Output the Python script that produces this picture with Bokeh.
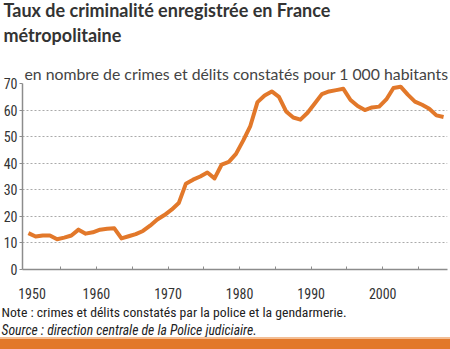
from bokeh.plotting import figure
from bokeh.models import FixedTicker, Range1d, Title, Spacer
from bokeh.layouts import column
from bokeh.embed import file_html
from bokeh.resources import INLINE

# ---- data ----
years = list(range(1950, 2009))
rates = [13.7, 12.4, 12.8, 12.8, 11.4, 12.0, 12.8, 15.0, 13.5, 14.0,
         15.0, 15.3, 15.5, 11.7, 12.5, 13.3, 14.5, 16.5, 18.8, 20.5,
         22.5, 25.0, 32.3, 33.8, 35.0, 36.5, 34.3, 39.5, 40.5, 43.5,
         48.5, 54.0, 63.0, 65.5, 67.0, 65.0, 59.5, 57.2, 56.4, 59.0,
         62.5, 66.0, 67.0, 67.5, 68.0, 63.8, 61.5, 60.0, 61.0, 61.3,
         64.0, 68.3, 68.8, 65.8, 63.2, 62.0, 60.5, 58.0, 57.4]
y_ticks = [0, 10, 20, 30, 40, 50, 60, 70]
x_tick_marks = [1955, 1960, 1965, 1970, 1975, 1980, 1985, 1990, 1995, 2000, 2005]
x_label_pos = [1951, 1960, 1970, 1980, 1990, 2000]   # 1950 label sits slightly right, as in the original
x_labels = ["1950", "1960", "1970", "1980", "1990", "2000"]

TITLE = "Taux de criminalité enregistrée en France\nmétropolitaine"
SUBTITLE = "en nombre de crimes et délits constatés pour 1 000 habitants"
NOTE = "Note : crimes et délits constatés par la police et la gendarmerie."
SOURCE = "Source : direction centrale de la Police judiciaire."

ORANGE = "#E2782A"
LIGHT_ORANGE = "#F3BE95"
AXIS_GREY = "#8c8c8c"
NARROW = "Roboto Condensed"

p = figure(width=450, height=337, output_backend="svg", toolbar_location=None,
           x_range=Range1d(1949.67, 2009.05), y_range=Range1d(0, 70),
           min_border_left=21, min_border_right=3, min_border_top=0,
           min_border_bottom=0)
p.outline_line_color = None

# series plotted at mid-year
xs = [y + 0.5 for y in years]
p.line(xs, rates, line_color=ORANGE, line_width=4, line_join="round")

# axes
for ax in (p.xaxis, p.yaxis):
    ax.axis_line_color = AXIS_GREY
    ax.axis_line_width = 1.5
    ax.major_tick_line_color = AXIS_GREY
    ax.minor_tick_line_color = AXIS_GREY
    ax.major_label_text_font = NARROW
    ax.major_label_text_font_size = "14px"
    ax.major_label_text_color = "#333333"

p.yaxis.ticker = FixedTicker(ticks=y_ticks)
p.yaxis.major_tick_out = 3
p.yaxis.major_tick_in = 0
p.yaxis.minor_tick_out = 0
p.yaxis.minor_tick_in = 0
p.yaxis.major_label_standoff = 2

p.xaxis.ticker = FixedTicker(ticks=x_label_pos, minor_ticks=x_tick_marks)
p.xaxis.major_label_overrides = dict(zip(x_label_pos, x_labels))
p.xaxis.major_tick_in = 0
p.xaxis.major_tick_out = 0
p.xaxis.minor_tick_in = 3
p.xaxis.minor_tick_out = 0
p.xaxis.major_label_standoff = 18

p.xgrid.grid_line_color = None
p.ygrid.ticker = FixedTicker(ticks=y_ticks[1:])
p.ygrid.grid_line_color = "#aaaaaa"
p.ygrid.grid_line_dash = "2 2"
p.ygrid.grid_line_width = 1

# subtitle (closest to the frame) then title
p.add_layout(Title(text="\n" + SUBTITLE, align="left", offset=2, vertical_align="bottom",
                   standoff=0, text_font="Lato", text_font_style="normal",
                   text_font_size="15.8px", text_color="#444444", text_line_height=0.92), "above")

title_kw = dict(text=TITLE, align="left", offset=-19, vertical_align="top",
                text_font="Lato", text_font_style="bold", text_font_size="18px",
                text_color="#333333", text_line_height=1.15)
try:
    main_title = Title(standoff=-4, **title_kw)
except Exception:
    main_title = Title(standoff=0, **title_kw)
p.add_layout(main_title, "above")

# notes under the axis
p.add_layout(Title(text=NOTE, align="left", offset=-21, vertical_align="bottom", standoff=0,
                   text_font=NARROW, text_font_style="normal", text_font_size="13.7px",
                   text_color="#222222"), "below")
p.add_layout(Title(text=SOURCE, align="left", offset=-21, vertical_align="bottom", standoff=0,
                   text_font=NARROW, text_font_style="italic", text_font_size="13.7px",
                   text_color="#222222"), "below")

# orange rule at the bottom of the page
bar = Spacer(width=450, height=12,
             styles={"background": f"linear-gradient(to bottom, {LIGHT_ORANGE} 0px, "
                                   f"{LIGHT_ORANGE} 2px, {ORANGE} 2px, {ORANGE} 100%)"})

layout = column(p, bar, spacing=0)
open("out.html", "w").write(file_html(layout, INLINE))
